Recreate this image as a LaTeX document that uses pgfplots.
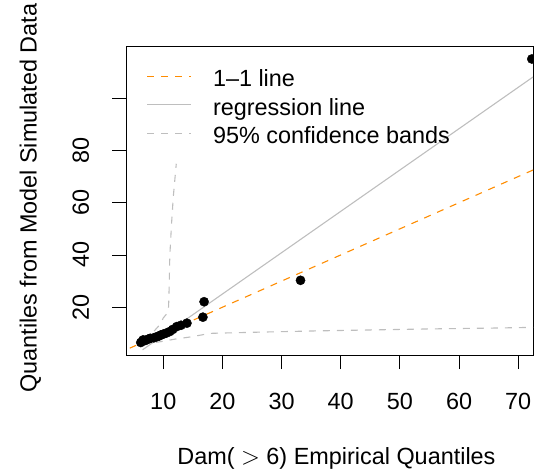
\documentclass[border=0pt]{standalone}
\usepackage{pgfplots}
\pgfplotsset{compat=1.18}
\usepackage{fontspec}
\setmainfont{Liberation Sans}
\definecolor{rorange}{RGB}{255,140,0}
\definecolor{rgrey}{RGB}{190,190,190}
\begin{document}
\begin{tikzpicture}
\useasboundingbox (0,0) rectangle (534bp,472bp);
\begin{axis}[
  at={(126bp,116.3bp)}, anchor=south west,
  scale only axis, width=407bp, height=309bp,
  xmin=3.7, xmax=72.5, ymin=1.45, ymax=119.7,
  xtick={10,20,30,40,50,60,70},
  ytick={20,40,60,80,100},
  yticklabels={20,40,60,80,},
  tick align=outside, major tick length=13.5bp,
  xtick pos=bottom, ytick pos=left,
  tick style={black, line width=0.9pt},
  axis line style={line width=0.9pt},
  /pgf/number format/assume math mode=true,
  ticklabel style={font=\fontsize{23.5}{28}\selectfont},
  xticklabel style={yshift=-20bp},
  yticklabel style={rotate=90, anchor=south, yshift=20bp},
  xlabel={Dam( $>$ 6) Empirical Quantiles},
  ylabel={Quantiles from Model Simulated Data},
  label style={font=\fontsize{23.5}{28}\selectfont},
  xlabel style={at={(axis description cs:0.517,0)}, anchor=north, yshift=-88bp},
  ylabel style={at={(axis description cs:0,0.51)}, anchor=south, yshift=81.5bp},
  legend style={draw=none, fill=none, at={(0.0509,0.926)}, anchor=north west,
    font=\fontsize{23.5}{28}\selectfont, row sep=6.5bp, inner sep=0pt,
    nodes={inner sep=0pt, text height=17bp, text depth=5bp}},
  legend cell align=left,
  legend image code/.code={\draw[#1] (0bp,4.5bp) -- (44bp,4.5bp); \path (65bp,0bp);},
  clip=true,
]
\addplot[rorange, line width=1.1pt, dash pattern=on 7bp off 7bp] coordinates {(0,0) (80,80)};
\addlegendentry{1--1 line}
\addplot[rgrey, line width=1.1pt] coordinates {(6.5,3.7) (72.5,108.1)};
\addlegendentry{regression line}
\addplot[rgrey, line width=1.1pt, dash pattern=on 7bp off 7bp] coordinates {
(6.4,8.2) (7.5,9.5) (8.5,11) (9.5,13.5) (10.0,15.9) (10.6,17.5) (10.9,20.2) (11.0,28) (11.1,39.4) (11.4,52) (11.7,62.4) (12.2,74.9)};
\addlegendentry{95\% confidence bands}
\addplot[rgrey, line width=1.1pt, dash pattern=on 7bp off 7bp, forget plot] coordinates {
(6.4,5.6) (8,6.3) (9.5,6.8) (12,7.8) (14.5,8.6) (16.5,9.4) (17.9,10.0) (25,10.4) (35,10.9) (45,11.3) (55,11.7) (65,12.0) (72.6,12.3)};
\addplot[only marks, mark=*, mark size=4.6bp, black, forget plot] coordinates {
(6.2,6.5) (6.5,7.0) (6.6,7.5) (7.0,7.3) (7.5,7.8) (7.8,8.1) (8.4,8.3) (8.9,8.7) (9.3,9.0) (9.6,9.4) (10.0,9.7) (10.5,10.1) (11.1,10.7) (11.6,11.5) (12.3,12.6) (13.0,13.1) (14.0,13.9) (16.7,16.2) (16.9,22.1) (33.2,30.3) (72.3,115.0)};
\end{axis}
\end{tikzpicture}
\end{document}
